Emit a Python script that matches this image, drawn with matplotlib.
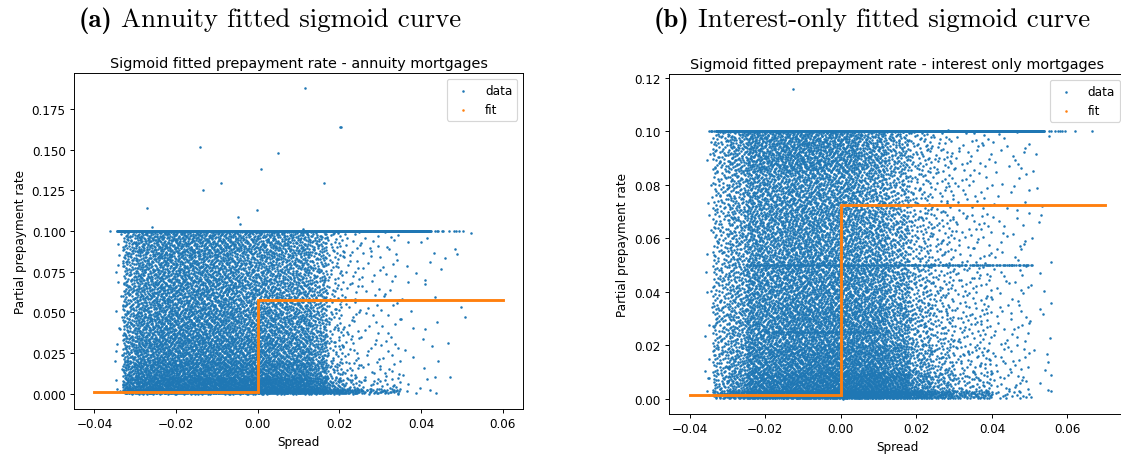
import matplotlib
matplotlib.use("Agg")
import matplotlib.pyplot as plt

# spread / partial prepayment rate, binned densities of the loan cloud
# (points per 0.001 spread x 0.001 rate), rows go bottom -> top
annuity_x_edges = [-0.035, -0.033, -0.030, -0.025, -0.015, -0.005, 0.005, 0.013,
                   0.017, 0.021, 0.025, 0.035, 0.045, 0.052]
annuity_y_edges = [0.0, 0.003, 0.01, 0.02, 0.035, 0.05, 0.07, 0.085, 0.1]
annuity_density = [
    [0.4, 4.5, 5.5, 6.0, 6.0, 6.0, 6.0, 5.5, 4.5, 3.0, 1.5, 0.15, 0.0],
    [0.15, 2.2, 3.0, 3.6, 3.8, 3.8, 3.4, 2.5, 1.2, 0.6, 0.3, 0.04, 0.0],
    [0.1, 1.6, 2.3, 2.6, 2.6, 2.4, 2.2, 1.6, 0.6, 0.3, 0.15, 0.03, 0.0],
    [0.1, 1.3, 1.8, 2.0, 2.0, 1.8, 1.6, 1.2, 0.4, 0.2, 0.1, 0.025, 0.01],
    [0.1, 1.1, 1.6, 1.75, 1.7, 1.5, 1.4, 1.0, 0.35, 0.17, 0.08, 0.025, 0.01],
    [0.1, 1.0, 1.4, 1.6, 1.55, 1.35, 1.2, 0.9, 0.3, 0.15, 0.08, 0.025, 0.01],
    [0.1, 0.9, 1.3, 1.5, 1.45, 1.25, 1.1, 0.8, 0.3, 0.15, 0.08, 0.025, 0.01],
    [0.1, 1.0, 1.4, 1.6, 1.55, 1.35, 1.2, 0.9, 0.35, 0.18, 0.1, 0.035, 0.01],
]
# loans sitting exactly on a rate level: (rate, spread from, spread to, count)
annuity_levels = [(0.1, -0.0345, 0.0425, 900), (0.1, 0.0425, 0.0505, 10)]
annuity_out_x = [-0.0363, -0.0141, -0.0135, -0.0090, -0.0270, -0.0259, -0.0047, -0.0043,
                 0.0009, -0.0002, 0.0051, 0.0117, 0.0201, 0.0205, 0.0162, 0.0110, 0.0522,
                 0.0470, 0.0434, 0.0409, 0.0488]
annuity_out_y = [0.1001, 0.1514, 0.1251, 0.1296, 0.1140, 0.1023, 0.1085, 0.1041,
                 0.1380, 0.1130, 0.1481, 0.1878, 0.1637, 0.1643, 0.1296, 0.1011, 0.0986,
                 0.0105, 0.0105, 0.0700, 0.0860]
annuity_fit_x = [-0.04, 0.0002, 0.0002, 0.06]
annuity_fit_y = [0.0009, 0.0009, 0.0577, 0.0577]

io_x_edges = [-0.036, -0.034, -0.030, -0.025, -0.015, -0.005, 0.005, 0.012,
              0.018, 0.024, 0.03, 0.04, 0.05, 0.056]
io_y_edges = [0.0, 0.003, 0.01, 0.02, 0.035, 0.05, 0.07, 0.085, 0.1]
io_density = [
    [0.3, 2.5, 4.5, 7.5, 8.0, 8.5, 8.5, 8.0, 6.0, 4.0, 2.5, 0.6, 0.1],
    [0.15, 1.2, 2.0, 3.6, 4.2, 4.8, 4.8, 4.0, 2.2, 1.3, 0.7, 0.25, 0.05],
    [0.1, 1.0, 1.6, 2.8, 3.2, 3.4, 3.2, 2.5, 1.3, 0.8, 0.45, 0.2, 0.05],
    [0.1, 0.9, 1.4, 2.3, 2.6, 2.7, 2.4, 1.8, 1.0, 0.6, 0.35, 0.15, 0.04],
    [0.1, 0.8, 1.3, 2.1, 2.3, 2.3, 2.0, 1.5, 0.8, 0.5, 0.28, 0.12, 0.04],
    [0.08, 0.7, 1.2, 1.9, 2.1, 2.0, 1.7, 1.2, 0.6, 0.4, 0.2, 0.1, 0.03],
    [0.08, 0.7, 1.2, 1.9, 2.0, 1.9, 1.5, 1.0, 0.5, 0.3, 0.15, 0.08, 0.02],
    [0.1, 0.9, 1.5, 2.4, 2.6, 2.4, 1.8, 1.2, 0.6, 0.35, 0.18, 0.1, 0.03],
]
io_levels = [(0.1, -0.0352, -0.033, 6), (0.1, -0.033, 0.0537, 1200), (0.1, 0.0537, 0.060, 8),
             (0.05, -0.025, 0.051, 180), (0.025, -0.02, 0.01, 60)]
io_out_x = [-0.0128, 0.0621, 0.0664, 0.0285, 0.0545, 0.0548]
io_out_y = [0.1157, 0.1, 0.1, 0.1006, 0.0167, 0.0033]
io_fit_x = [-0.04, 0.0, 0.0, 0.07]
io_fit_y = [0.0015, 0.0015, 0.0723, 0.0723]

DPI = 86
W, H = 1121, 455
BLUE = "#1f77b4"
ORANGE = "#ff7f0e"
DOT = 4.5
LEAP = 409  # leaped Halton index, avoids the lattice look of plain 2/3 bases


def halton(i, base):
    f, r = 1.0, 0.0
    while i > 0:
        f /= base
        r += f * (i % base)
        i //= base
    return r


def build_cloud(x_edges, y_edges, density, levels, out_x, out_y):
    xs, ys = [], []
    k = 1
    for r in range(len(y_edges) - 1):
        y0, y1 = y_edges[r], y_edges[r + 1]
        for c in range(len(x_edges) - 1):
            x0, x1 = x_edges[c], x_edges[c + 1]
            n = int(round(density[r][c] * (x1 - x0) / 0.001 * (y1 - y0) / 0.001))
            for _ in range(n):
                xs.append(x0 + halton(k * LEAP, 2) * (x1 - x0))
                ys.append(y0 + halton(k * LEAP, 3) * (y1 - y0))
                k += 1
    for y, x0, x1, n in levels:
        for _ in range(n):
            xs.append(x0 + halton(k * LEAP, 2) * (x1 - x0))
            ys.append(y)
            k += 1
    return xs + list(out_x), ys + list(out_y)


def panel(ax, title, cloud, fit_x, fit_y, xlim, ylim):
    xs, ys = cloud
    ax.scatter(xs, ys, s=DOT, color=BLUE, linewidths=0, label="data")
    ax.plot(fit_x, fit_y, color=ORANGE, linewidth=2.4, solid_joinstyle="miter", zorder=3)
    ax.scatter([], [], s=DOT, color=ORANGE, linewidths=0, label="fit")
    ax.set_xlim(*xlim)
    ax.set_ylim(*ylim)
    ax.set_title(title, pad=5)
    ax.set_xlabel("Spread")
    ax.set_ylabel("Partial prepayment rate")
    ax.legend(loc="upper right")


fig = plt.figure(figsize=(W / DPI, H / DPI), dpi=DPI)
ax1 = fig.add_axes([74 / W, 45 / H, 449 / W, 336 / H])
ax2 = fig.add_axes([669 / W, 40 / H, 457 / W, 340 / H])

panel(ax1, "Sigmoid fitted prepayment rate - annuity mortgages",
      build_cloud(annuity_x_edges, annuity_y_edges, annuity_density,
                  annuity_levels, annuity_out_x, annuity_out_y),
      annuity_fit_x, annuity_fit_y, (-0.045, 0.065), (-0.0094, 0.1972))
panel(ax2, "Sigmoid fitted prepayment rate - interest only mortgages",
      build_cloud(io_x_edges, io_y_edges, io_density,
                  io_levels, io_out_x, io_out_y),
      io_fit_x, io_fit_y, (-0.0455, 0.0755), (-0.0058, 0.1215))

# subfigure captions: bold tag + roman text, centred as one line
fig.canvas.draw()
renderer = fig.canvas.get_renderer()
CAP_SIZE = 22.5


def caption(cx, tag, text):
    y = 1 - 26.7 / H
    t1 = fig.text(0, y, tag, family="cmb10", fontsize=CAP_SIZE, va="baseline")
    t2 = fig.text(0, y, text, family="cmr10", fontsize=CAP_SIZE, va="baseline")
    w1 = t1.get_window_extent(renderer).width
    w2 = t2.get_window_extent(renderer).width
    gap = 0.33 * CAP_SIZE * DPI / 72
    x0 = cx - (w1 + gap + w2) / 2
    t1.set_x(x0 / W)
    t2.set_x((x0 + w1 + gap) / W)


caption(270, "(a)", "Annuity fitted sigmoid curve")
caption(872, "(b)", "Interest-only fitted sigmoid curve")

fig.savefig("out.png", dpi=DPI)
plt.close(fig)
